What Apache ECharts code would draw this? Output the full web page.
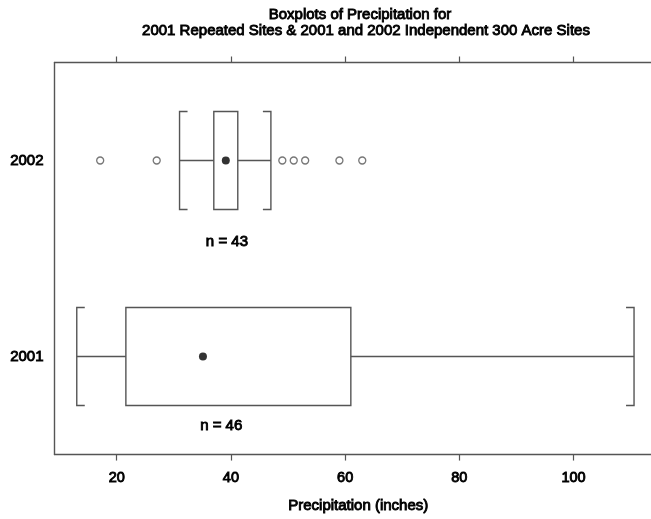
<!DOCTYPE html>
<html>
<head>
<meta charset="utf-8">
<style>
  html, body { margin: 0; padding: 0; background: #fff; }
  #chart { width: 651px; height: 519px; }
</style>
<script src="https://cdn.jsdelivr.net/npm/echarts@6/dist/echarts.min.js"></script>
</head>
<body>
<div id="chart"></div>
<script>
// Precipitation summaries (inches) per year group
const years = ['2001', '2002'];
const lowerWhisker = [13.0, 31.0];
const lowerQuartile = [21.6, 37.0];
const medians = [35.1, 39.1];
const upperQuartile = [61.0, 41.2];
const upperWhisker = [110.6, 47.0];
const sampleSizes = [46, 43];
const outliers2002 = [17.1, 27.0, 49.0, 51.0, 53.0, 59.0, 63.0];
const tickValues = [20, 40, 60, 80, 100];

// Layout settings
const FONT = '"Liberation Sans", Arial, sans-serif';
const LINE = '#555';
const INK = { textBorderColor: '#000', textBorderWidth: 0.9 };
const nLabelX = [38.3, 39.3];      // value at which each "n = .." note is centred
const nLabelDrop = [69, 81];       // px below the row centre

const boxRows = years.map((y, i) => [i, lowerWhisker[i], lowerQuartile[i], medians[i], upperQuartile[i], upperWhisker[i], sampleSizes[i]]);

function renderBox(params, api) {
  const cat = api.value(0);
  const band = api.size([0, 1])[1];
  const half = band * 0.25;
  const cy = api.coord([api.value(3), cat])[1];
  const xLow = api.coord([api.value(1), cat])[0];
  const xQ1 = api.coord([api.value(2), cat])[0];
  const xQ3 = api.coord([api.value(4), cat])[0];
  const xHigh = api.coord([api.value(5), cat])[0];
  const stub = 8;
  const top = cy - half, bot = cy + half;
  const ls = { stroke: LINE, lineWidth: 1.4, fill: null };
  const idx = params.dataIndex;
  const labelX = api.coord([nLabelX[idx], cat])[0];
  return {
    type: 'group',
    children: [
      { type: 'line', shape: { x1: xLow, y1: cy, x2: xQ1, y2: cy }, style: ls },
      { type: 'line', shape: { x1: xQ3, y1: cy, x2: xHigh, y2: cy }, style: ls },
      { type: 'rect', shape: { x: xQ1, y: top, width: xQ3 - xQ1, height: bot - top }, style: ls },
      { type: 'polyline', shape: { points: [[xLow + stub, top], [xLow, top], [xLow, bot], [xLow + stub, bot]] }, style: ls },
      { type: 'polyline', shape: { points: [[xHigh - stub, top], [xHigh, top], [xHigh, bot], [xHigh - stub, bot]] }, style: ls },
      {
        type: 'text',
        style: {
          text: 'n = ' + api.value(6),
          x: labelX, y: cy + nLabelDrop[idx],
          align: 'center', verticalAlign: 'middle',
          textAlign: 'center', textVerticalAlign: 'middle',
          fontFamily: FONT, fontSize: 15, fill: '#000',
          stroke: '#000', lineWidth: 0.9
        }
      }
    ]
  };
}

const textStyle = (size) => Object.assign({ fontFamily: FONT, fontSize: size, fontWeight: 'normal', color: '#000' }, INK);

const chart = echarts.init(document.getElementById('chart'), null, { renderer: 'canvas' });
chart.setOption({
  animation: false,
  backgroundColor: '#fff',
  title: [
    { text: 'Boxplots of Precipitation for', left: 360, top: 7, padding: 0, textAlign: 'center', textStyle: textStyle(15) },
    { text: '2001 Repeated Sites & 2001 and 2002 Independent 300 Acre Sites', left: 366, top: 23, padding: 0, textAlign: 'center', textStyle: textStyle(15) }
  ],
  grid: { left: 54.5, top: 62.5, right: 0, height: 396, containLabel: false },
  xAxis: [
    {
      type: 'value', position: 'bottom', min: 9.1, max: 113.57,
      name: 'Precipitation (inches)', nameLocation: 'middle', nameGap: 44,
      nameTextStyle: Object.assign(textStyle(15), { padding: [0, 0, 0, 11] }),
      axisLine: { show: true, lineStyle: { color: LINE, width: 1.4 } },
      axisTick: { show: true, inside: false, length: 6, customValues: tickValues, lineStyle: { color: LINE, width: 1.2 } },
      axisLabel: Object.assign({ show: true, customValues: tickValues, margin: 16 }, textStyle(14.5)),
      splitLine: { show: false }
    },
    {
      type: 'value', position: 'top', min: 9.1, max: 113.57,
      axisLine: { show: true, lineStyle: { color: LINE, width: 1.4 } },
      axisTick: { show: true, inside: false, length: 6, customValues: tickValues, lineStyle: { color: LINE, width: 1.2 } },
      axisLabel: { show: false },
      splitLine: { show: false }
    }
  ],
  yAxis: {
    type: 'category', data: years, boundaryGap: true,
    axisLine: { show: true, lineStyle: { color: LINE, width: 1.4 } },
    axisTick: { show: false },
    axisLabel: Object.assign({ margin: 11 }, textStyle(15)),
    splitLine: { show: false }
  },
  series: [
    {
      type: 'custom', xAxisIndex: 0, yAxisIndex: 0,
      renderItem: renderBox,
      encode: { x: [1, 2, 3, 4, 5], y: 0 },
      data: boxRows, z: 2
    },
    {
      type: 'scatter', xAxisIndex: 0, yAxisIndex: 0,
      symbol: 'circle', symbolSize: 7,
      itemStyle: { color: '#fff', borderColor: LINE, borderWidth: 1.3 },
      data: outliers2002.map(v => [v, '2002']), z: 3
    },
    {
      type: 'scatter', xAxisIndex: 0, yAxisIndex: 0,
      symbol: 'circle', symbolSize: 8,
      itemStyle: { color: '#000' },
      data: medians.map((v, i) => [v, years[i]]), z: 4
    }
  ]
});
</script>
</body>
</html>
